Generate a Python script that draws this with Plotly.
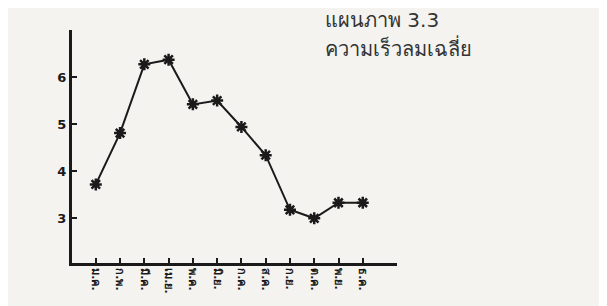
import plotly.graph_objects as go

months = ["ม.ค.", "ก.พ.", "มี.ค.", "เม.ย.", "พ.ค.", "มิ.ย.", "ก.ค.", "ส.ค.", "ก.ย.", "ต.ค.", "พ.ย.", "ธ.ค."]
wind_speed = [3.72, 4.81, 6.27, 6.37, 5.42, 5.50, 4.94, 4.34, 3.18, 3.00, 3.33, 3.33]
y_ticks = [3, 4, 5, 6]
title_line1 = "แผนภาพ 3.3"
title_line2 = "ความเร็วลมเฉลี่ย"

fig = go.Figure()
fig.add_trace(go.Scatter(
    x=list(range(len(months))), y=wind_speed, mode="lines+markers",
    line=dict(color="#1a1a1a", width=2),
    marker=dict(symbol="asterisk", size=10, color="#1a1a1a",
                line=dict(color="#1a1a1a", width=2.5)),
    showlegend=False,
))

fig.update_layout(
    width=599, height=298,
    margin=dict(l=64, r=210, t=22, b=38),
    paper_bgcolor="#f4f3f0", plot_bgcolor="#f4f3f0",
    font=dict(family="DejaVu Sans", color="#1a1a1a"),
    xaxis=dict(range=[-0.98, 12.41], tickmode="array",
               tickvals=list(range(len(months))),
               ticktext=["<b>%s</b>" % m for m in months],
               tickangle=90, ticks="inside", ticklen=5, tickwidth=1.5,
               tickcolor="#1a1a1a", showline=True, linewidth=3,
               linecolor="#1a1a1a", showgrid=False, zeroline=False,
               tickfont=dict(size=11)),
    yaxis=dict(range=[2.05, 7.0], tickmode="array", tickvals=y_ticks,
               ticktext=["<b>%d</b>" % v for v in y_ticks], ticks="inside",
               ticklen=5, tickwidth=1.5, tickcolor="#1a1a1a",
               showline=True, linewidth=3, linecolor="#1a1a1a",
               showgrid=False, zeroline=False,
               tickfont=dict(size=13, family="DejaVu Sans")),
)

fig.add_annotation(text=title_line1, xref="paper", yref="paper",
                   x=0.772, y=1.042, xanchor="left", yanchor="middle",
                   showarrow=False, font=dict(size=20, color="#333333"))
fig.add_annotation(text=title_line2, xref="paper", yref="paper",
                   x=0.772, y=0.924, xanchor="left", yanchor="middle",
                   showarrow=False, font=dict(size=20, color="#333333"))

fig.write_html("out.html")
